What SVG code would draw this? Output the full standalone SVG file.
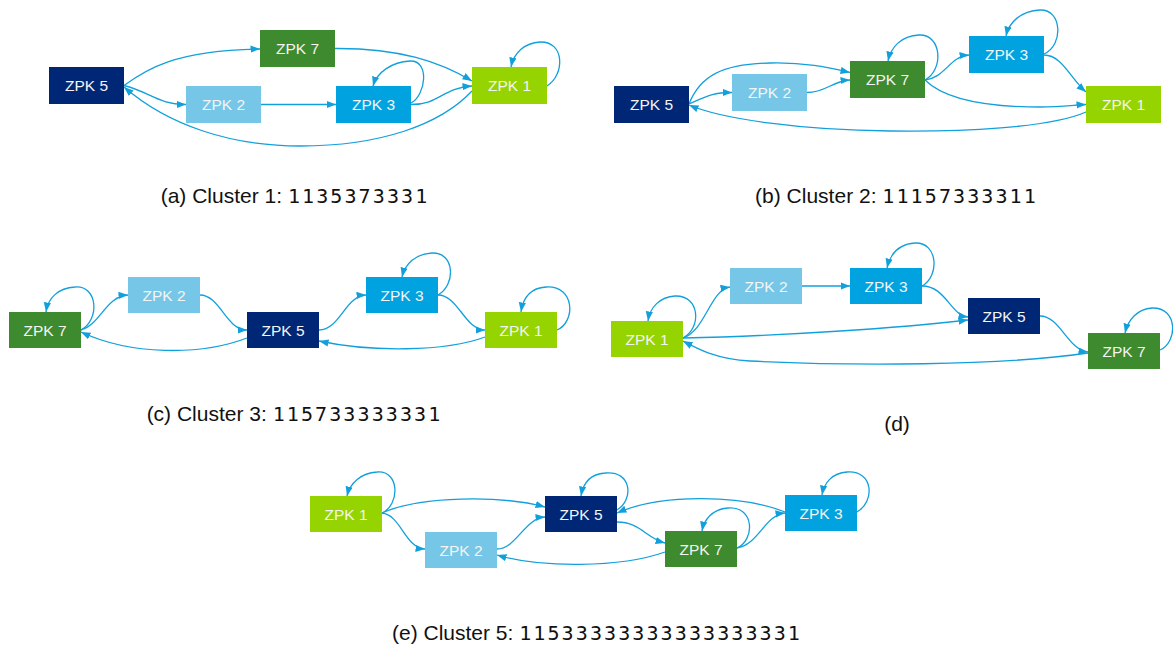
<svg xmlns="http://www.w3.org/2000/svg" width="1173" height="648" viewBox="0 0 1173 648">
  <defs>
    <marker id="ah" markerWidth="11" markerHeight="8" refX="9.5" refY="3.6" orient="auto" markerUnits="userSpaceOnUse">
      <path d="M0,0 L9.5,3.6 L0,7.2 z" fill="#12a0dc"/>
    </marker>
    <style>
      .z1 { fill: #95d400; }
      .z2 { fill: #76c7e7; }
      .z3 { fill: #00a3e0; }
      .z5 { fill: #002775; }
      .z7 { fill: #3e8a2e; }
      .node text { font-family: "Liberation Sans", Arial, sans-serif; font-size: 15.5px; fill: #f4f4f4; text-anchor: middle; }
      .edges path { fill: none; stroke: #12a0dc; stroke-width: 1.3; marker-end: url(#ah); }
      .cap { font-family: "Liberation Sans", Arial, sans-serif; font-size: 21px; fill: #111; text-anchor: middle; }
      .seq { font-family: "DejaVu Sans Mono", "Liberation Mono", monospace; font-size: 20px; letter-spacing: 2.1px; }
    </style>
  </defs>
  <rect width="1173" height="648" fill="#ffffff"/>

  <!-- (a) Cluster 1 -->
  <g id="a-edges" class="edges">
    <path d="M124,85.5 C145,70 175,50 260,49"/>
    <path d="M124,85.5 C150,92 158,104.5 186,104.5"/>
    <path d="M261,104.5 L336,104.5"/>
    <path d="M411,104.5 C440,104.5 442,88 472,86"/>
    <path d="M335,48.5 C400,48 440,62 472,81"/>
    <path d="M472,91 C440,125 380,146 300,146 C230,146 168,125 124,87"/>
    <path d="M547,86 C565,75 565,41 540,42 C525,43 514,52 511,67"/>
    <path d="M411,103 C426,95 430,60 410,61 C392,62 377,72 373,86"/>
  </g>
  <g id="a-zpk5" class="node"><rect class="z5" x="49" y="67" width="75" height="37"/><text x="86.5" y="91">ZPK 5</text></g>
  <g id="a-zpk7" class="node"><rect class="z7" x="260" y="30" width="75" height="37"/><text x="297.5" y="54">ZPK 7</text></g>
  <g id="a-zpk2" class="node"><rect class="z2" x="186" y="86" width="75" height="37"/><text x="223.5" y="110">ZPK 2</text></g>
  <g id="a-zpk3" class="node"><rect class="z3" x="336" y="86" width="75" height="37"/><text x="373.5" y="110">ZPK 3</text></g>
  <g id="a-zpk1" class="node"><rect class="z1" x="472" y="67" width="75" height="37"/><text x="509.5" y="91">ZPK 1</text></g>
  <text class="cap" x="295" y="203">(a) Cluster 1: <tspan class="seq">1135373331</tspan></text>

  <!-- (b) Cluster 2 -->
  <g id="b-edges" class="edges">
    <path d="M689,104 C700,76 722,64 770,63 C805,62 830,68 850,72.5"/>
    <path d="M689,104 C705,97 712,92.5 732,92.5"/>
    <path d="M807,92.5 C826,92.5 832,81 850,80"/>
    <path d="M925,80 C944,70 942,34 919,35 C901,36 891,47 888,61"/>
    <path d="M925,80 C945,78 950,56 969,55"/>
    <path d="M1044,54 C1064,45 1062,9 1040,10 C1021,11 1009,22 1006,36"/>
    <path d="M1044,55 C1062,55 1070,78 1086,92"/>
    <path d="M925,80 C945,100 990,107 1040,107 C1060,107 1075,105 1086,104.5"/>
    <path d="M1086,112 C1050,128 960,132 890,131 C800,130 722,119 689,105"/>
  </g>
  <g id="b-zpk5" class="node"><rect class="z5" x="614" y="86" width="75" height="37"/><text x="651.5" y="110">ZPK 5</text></g>
  <g id="b-zpk2" class="node"><rect class="z2" x="732" y="74" width="75" height="37"/><text x="769.5" y="98">ZPK 2</text></g>
  <g id="b-zpk7" class="node"><rect class="z7" x="850" y="61" width="75" height="37"/><text x="887.5" y="85">ZPK 7</text></g>
  <g id="b-zpk3" class="node"><rect class="z3" x="969" y="36" width="75" height="37"/><text x="1006.5" y="60">ZPK 3</text></g>
  <g id="b-zpk1" class="node"><rect class="z1" x="1086" y="86" width="75" height="37"/><text x="1123.5" y="110">ZPK 1</text></g>
  <text class="cap" x="896.5" y="203">(b) Cluster 2: <tspan class="seq">11157333311</tspan></text>

  <!-- (c) Cluster 3 -->
  <g id="c-edges" class="edges">
    <path d="M81,330 C100,320 98,285 75,287 C58,288 48,298 46,312"/>
    <path d="M81,330 C100,325 106,296 128,295"/>
    <path d="M200,295 C220,295 226,330 247,330"/>
    <path d="M319,330 C340,330 345,296 366,295"/>
    <path d="M438,295 C456,285 455,252 432,253 C415,254 405,264 402,277"/>
    <path d="M438,295 C458,295 465,330 485,330"/>
    <path d="M557,330 C576,322 575,285 546,287 C530,288 523,298 521,312"/>
    <path d="M485,337 C445,352 370,352 319,341"/>
    <path d="M247,338 C200,356 130,355 81,332"/>
  </g>
  <g id="c-zpk7" class="node"><rect class="z7" x="9" y="312" width="72" height="36"/><text x="45" y="335.5">ZPK 7</text></g>
  <g id="c-zpk2" class="node"><rect class="z2" x="128" y="277" width="72" height="36"/><text x="164" y="300.5">ZPK 2</text></g>
  <g id="c-zpk5" class="node"><rect class="z5" x="247" y="312" width="72" height="36"/><text x="283" y="335.5">ZPK 5</text></g>
  <g id="c-zpk3" class="node"><rect class="z3" x="366" y="277" width="72" height="36"/><text x="402" y="300.5">ZPK 3</text></g>
  <g id="c-zpk1" class="node"><rect class="z1" x="485" y="312" width="72" height="36"/><text x="521" y="335.5">ZPK 1</text></g>
  <text class="cap" x="294.5" y="421">(c) Cluster 3: <tspan class="seq">115733333331</tspan></text>

  <!-- (d) -->
  <g id="d-edges" class="edges">
    <path d="M683,338 C702,328 700,295 675,296 C660,297 650,307 648,321"/>
    <path d="M683,338 C706,330 710,290 730,287"/>
    <path d="M802,286 L850,286"/>
    <path d="M922,286 C940,276 938,242 915,243 C898,244 890,255 887,268"/>
    <path d="M922,286 C946,286 950,315 968,317"/>
    <path d="M683,338 C780,336 900,328 968,320"/>
    <path d="M1040,316 C1060,316 1068,350 1088,352"/>
    <path d="M1160,350 C1178,342 1178,307 1152,308 C1137,309 1128,320 1125,333"/>
    <path d="M1088,353 C1000,366 850,366 750,361 C715,359 696,348 683,341"/>
  </g>
  <g id="d-zpk1" class="node"><rect class="z1" x="611" y="321" width="72" height="36"/><text x="647" y="344.5">ZPK 1</text></g>
  <g id="d-zpk2" class="node"><rect class="z2" x="730" y="268" width="72" height="36"/><text x="766" y="291.5">ZPK 2</text></g>
  <g id="d-zpk3" class="node"><rect class="z3" x="850" y="268" width="72" height="36"/><text x="886" y="291.5">ZPK 3</text></g>
  <g id="d-zpk5" class="node"><rect class="z5" x="968" y="298" width="72" height="36"/><text x="1004" y="321.5">ZPK 5</text></g>
  <g id="d-zpk7" class="node"><rect class="z7" x="1088" y="333" width="72" height="36"/><text x="1124" y="356.5">ZPK 7</text></g>
  <text class="cap" x="897" y="431">(d)</text>

  <!-- (e) Cluster 5 -->
  <g id="e-edges" class="edges">
    <path d="M382,513 C400,505 400,470 377,472 C361,473 350,483 347,496"/>
    <path d="M382,513 C420,496 500,495 545,507"/>
    <path d="M382,513 C401,515 405,548 425,549"/>
    <path d="M497,549 C516,549 525,518 545,517"/>
    <path d="M617,510 C634,500 632,470 605,473 C590,474 583,484 581,496"/>
    <path d="M617,522 C640,522 646,538 665,543"/>
    <path d="M737,548 C755,540 755,506 728,508 C712,509 704,520 702,531"/>
    <path d="M737,548 C758,545 765,515 785,513"/>
    <path d="M857,512 C875,502 874,470 847,472 C832,473 824,483 822,495"/>
    <path d="M785,512 C740,494 660,494 617,513"/>
    <path d="M665,552 C620,568 540,568 497,555"/>
  </g>
  <g id="e-zpk1" class="node"><rect class="z1" x="310" y="496" width="72" height="36"/><text x="346" y="519.5">ZPK 1</text></g>
  <g id="e-zpk2" class="node"><rect class="z2" x="425" y="532" width="72" height="36"/><text x="461" y="555.5">ZPK 2</text></g>
  <g id="e-zpk5" class="node"><rect class="z5" x="545" y="496" width="72" height="36"/><text x="581" y="519.5">ZPK 5</text></g>
  <g id="e-zpk7" class="node"><rect class="z7" x="665" y="531" width="72" height="36"/><text x="701" y="554.5">ZPK 7</text></g>
  <g id="e-zpk3" class="node"><rect class="z3" x="785" y="495" width="72" height="36"/><text x="821" y="518.5">ZPK 3</text></g>
  <text class="cap" x="597" y="640">(e) Cluster 5: <tspan class="seq">11533333333333333331</tspan></text>
</svg>
